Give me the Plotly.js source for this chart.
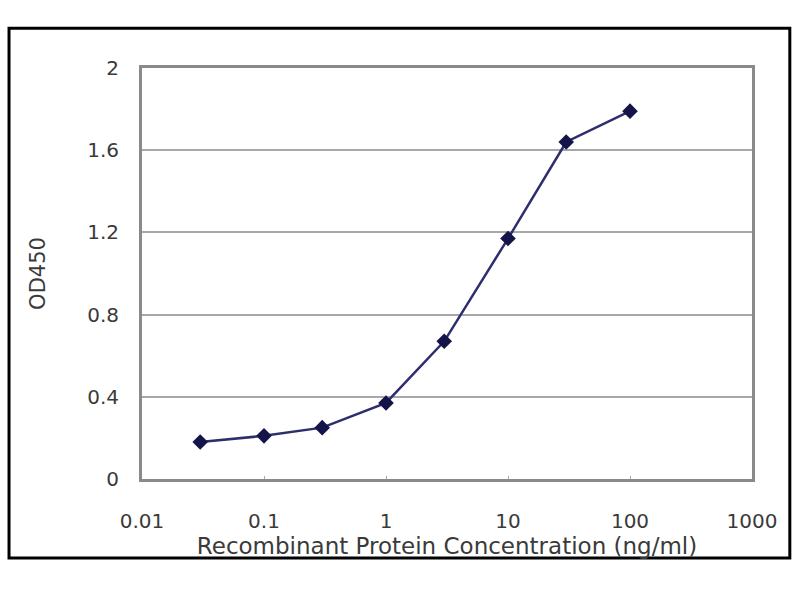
<!DOCTYPE html>
<html>
<head>
<meta charset="utf-8">
<script src="https://cdn.plot.ly/plotly-3.0.1.min.js"></script>
<style>html,body{margin:0;padding:0;background:#fff;}#chart{width:800px;height:600px;}</style>
</head>
<body>
<div id="chart"></div>
<script>
const concentration = [0.03, 0.1, 0.3, 1, 3, 10, 30, 100];
const od450 = [0.18, 0.21, 0.25, 0.37, 0.67, 1.17, 1.64, 1.79];
const xTickVals = [0.01, 0.1, 1, 10, 100, 1000];
const xTickText = ["0.01", "0.1", "1", "10", "100", "1000"];
const yTickVals = [0, 0.4, 0.8, 1.2, 1.6, 2];
const yTickText = ["0", "0.4", "0.8", "1.2", "1.6", "2"];

const trace = {
  x: concentration,
  y: od450,
  type: 'scatter',
  mode: 'lines+markers',
  line: {color: '#2e2e6e', width: 2.5},
  marker: {symbol: 'diamond', size: 12, color: '#14144a'},
  hoverinfo: 'skip'
};

const fam = 'DejaVu Sans, Arial, sans-serif';
const font = {family: fam, size: 20, color: '#3a3a3a'};

const layout = {
  width: 800, height: 600,
  paper_bgcolor: '#ffffff', plot_bgcolor: '#ffffff',
  margin: {l: 142, r: 48, t: 68, b: 121},
  showlegend: false,
  font: font,
  xaxis: {
    type: 'log',
    range: [-2, 3],
    tickvals: xTickVals,
    ticktext: xTickText,
    showgrid: false,
    zeroline: false,
    showline: true, mirror: true, linecolor: '#8a8a8a', linewidth: 3,
    ticks: 'inside', ticklen: 3, tickcolor: '#aaaaaa',
    ticklabelstandoff: 22,
    tickfont: font,
    title: {text: 'Recombinant Protein Concentration (ng/ml)', font: {family: fam, size: 23, color: '#3a3a3a'}, standoff: 0}
  },
  yaxis: {
    range: [0, 2],
    tickvals: yTickVals,
    ticktext: yTickText,
    showgrid: true, gridcolor: '#a8a8a8', gridwidth: 2,
    zeroline: false,
    showline: true, mirror: true, linecolor: '#8a8a8a', linewidth: 3,
    ticks: '',
    ticklabelstandoff: 16,
    tickfont: font,
    title: {text: 'OD450', font: {family: fam, size: 21, color: '#3a3a3a'}, standoff: 36}
  },
  shapes: [{
    type: 'rect', xref: 'paper', yref: 'paper',
    x0: -0.218, x1: 1.062, y0: -0.192, y1: 1.097,
    line: {color: '#000000', width: 3}, fillcolor: 'rgba(0,0,0,0)', layer: 'below'
  }]
};

Plotly.newPlot('chart', [trace], layout, {displayModeBar: false, staticPlot: true});
</script>
</body>
</html>
